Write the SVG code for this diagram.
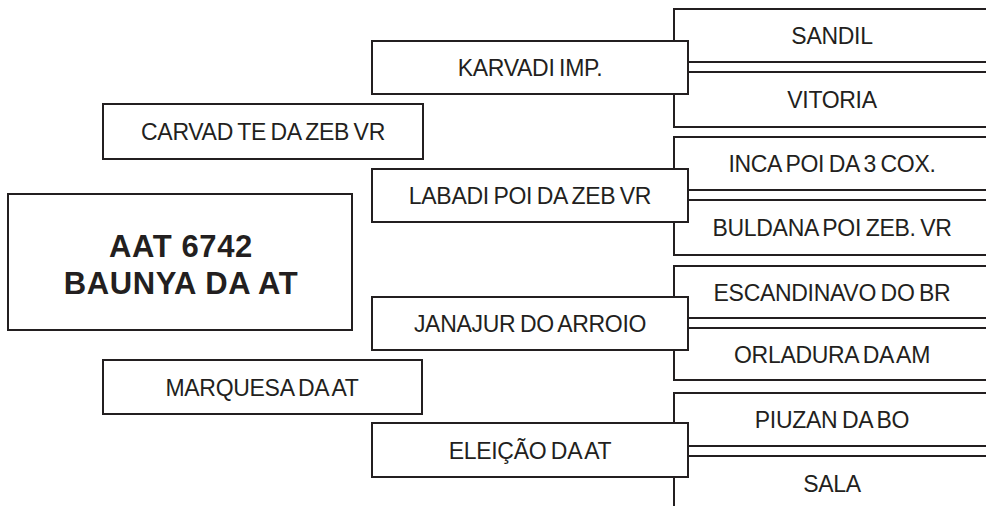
<svg xmlns="http://www.w3.org/2000/svg" width="986" height="506" viewBox="0 0 986 506">
<style>
.box{fill:#fff;stroke:#231f20;stroke-width:2}
.ln{fill:none;stroke:#231f20;stroke-width:2}
.t{font-family:"Liberation Sans",Arial,sans-serif;font-size:23px;fill:#231f20;text-anchor:middle;letter-spacing:-0.3px;word-spacing:-1.5px}
.m{font-family:"Liberation Sans",Arial,sans-serif;font-size:31px;font-weight:bold;fill:#231f20;text-anchor:middle;letter-spacing:0.6px}
</style>
<rect width="986" height="506" fill="#fff"/>
<g id="connectors">
<path class="ln" d="M987 9H674V127H987M688 62H987M688 72H987"/>
<path class="ln" d="M987 137H674V255H987M688 190H987M688 200H987"/>
<path class="ln" d="M987 266H674V380H987M688 318H987M688 328H987"/>
<path class="ln" d="M987 393H674V507M688 446H987M688 456H987"/>
</g>
<g id="main"><rect class="box" x="8" y="194" width="344" height="136"/><text class="m" x="181" y="257">AAT 6742</text><text class="m" x="181" y="294">BAUNYA DA AT</text></g>
<g id="carvad"><rect class="box" x="103" y="104" width="320" height="55"/><text class="t" x="263" y="139.5">CARVAD TE DA ZEB VR</text></g>
<g id="marquesa"><rect class="box" x="103" y="360" width="319" height="54"/><text class="t" x="262" y="395.5">MARQUESA DA AT</text></g>
<g id="karvadi"><rect class="box" x="372" y="41" width="316" height="53"/><text class="t" x="530" y="76">KARVADI IMP.</text></g>
<g id="labadi"><rect class="box" x="372" y="169" width="316" height="53"/><text class="t" x="530" y="204">LABADI POI DA ZEB VR</text></g>
<g id="janajur"><rect class="box" x="372" y="297" width="316" height="53"/><text class="t" x="530" y="332">JANAJUR DO ARROIO</text></g>
<g id="eleicao"><rect class="box" x="372" y="423" width="316" height="54"/><text class="t" x="530" y="458.5">ELEIÇÃO DA AT</text></g>
<g id="sandil"><text class="t" x="832" y="44">SANDIL</text></g>
<g id="vitoria"><text class="t" x="832" y="108">VITORIA</text></g>
<g id="inca"><text class="t" x="832" y="172">INCA POI DA 3 COX.</text></g>
<g id="buldana"><text class="t" x="832" y="236">BULDANA POI ZEB. VR</text></g>
<g id="escandinavo"><text class="t" x="832" y="300.5">ESCANDINAVO DO BR</text></g>
<g id="orladura"><text class="t" x="832" y="362.5">ORLADURA DA AM</text></g>
<g id="piuzan"><text class="t" x="832" y="428">PIUZAN DA BO</text></g>
<g id="sala"><text class="t" x="832" y="491.5">SALA</text></g>
</svg>
